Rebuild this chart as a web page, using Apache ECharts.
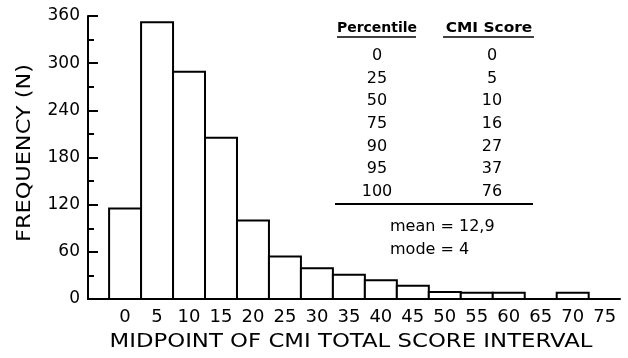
<!DOCTYPE html>
<html>
<head>
  <meta charset="utf-8">
  <title>CMI score histogram</title>
  <style>
    html, body { margin: 0; padding: 0; background: #fff; }
  </style>
</head>
<body>
  <div id="main" style="width: 628px;height:358px;"></div>
</body>
<script src="https://cdn.jsdelivr.net/npm/echarts@6/dist/echarts.min.js"></script>
<script>
  // interval midpoints and how many people fell in each
  let midpoints = [0, 5, 10, 15, 20, 25, 30, 35, 40, 45, 50, 55, 60, 65, 70, 75];
  let frequency = [115, 352, 289, 205, 100, 54, 39, 31, 24, 17, 9, 8, 8, 0, 8, 0];
  let yTicks = [0, 60, 120, 180, 240, 300, 360];

  // inset table
  let percentiles = [0, 25, 50, 75, 90, 95, 100];
  let cmiScores = [0, 5, 10, 16, 27, 37, 76];
  let mean = 12.9;
  let mode = 4;

  let font = 'DejaVu Sans';
  let binWidth = 5;

  let graphic = [];
  // axis titles (the original lettering is wider than DejaVu, so stretch a bit)
  graphic.push({ type: 'text', x: 351, y: 342, scaleX: 1.14, style: { text: 'MIDPOINT OF CMI TOTAL SCORE INTERVAL', font: '20px ' + font, fill: '#000', align: 'center', verticalAlign: 'middle' } });
  graphic.push({ type: 'text', x: 25, y: 153, rotation: Math.PI / 2, scaleX: 1.12, style: { text: 'FREQUENCY (N)', font: '20px ' + font, fill: '#000', align: 'center', verticalAlign: 'middle' } });

  let headY = 28, rowY0 = 56, rowStep = 22.6;
  graphic.push({ type: 'text', x: 377, y: headY, style: { text: 'Percentile', font: 'bold 14px ' + font, fill: '#000', align: 'center', verticalAlign: 'middle' } });
  graphic.push({ type: 'text', x: 489, y: headY, scaleX: 1.1, style: { text: 'CMI Score', font: 'bold 14px ' + font, fill: '#000', align: 'center', verticalAlign: 'middle' } });
  graphic.push({ type: 'line', shape: { x1: 337, y1: 37, x2: 416, y2: 37 }, style: { stroke: '#000', lineWidth: 1.5 } });
  graphic.push({ type: 'line', shape: { x1: 443, y1: 37, x2: 534, y2: 37 }, style: { stroke: '#000', lineWidth: 1.5 } });
  percentiles.forEach((p, i) => {
    graphic.push({ type: 'text', x: 377, y: rowY0 + i * rowStep, style: { text: String(p), font: '16px ' + font, fill: '#000', align: 'center', verticalAlign: 'middle' } });
    graphic.push({ type: 'text', x: 492, y: rowY0 + i * rowStep, style: { text: String(cmiScores[i]), font: '16px ' + font, fill: '#000', align: 'center', verticalAlign: 'middle' } });
  });
  graphic.push({ type: 'line', shape: { x1: 335, y1: 204, x2: 533, y2: 204 }, style: { stroke: '#000', lineWidth: 2 } });
  graphic.push({ type: 'text', x: 390, y: 227, style: { text: 'mean = ' + String(mean).replace('.', ','), font: '16px ' + font, fill: '#000', align: 'left', verticalAlign: 'middle' } });
  graphic.push({ type: 'text', x: 390, y: 250, style: { text: 'mode = ' + mode, font: '16px ' + font, fill: '#000', align: 'left', verticalAlign: 'middle' } });

  var myChart = echarts.init(document.getElementById('main'));

  option = {
    backgroundColor: '#fff',
    animation: false,
    grid: { left: 88, top: 16, width: 532, height: 283, containLabel: false },
    xAxis: {
      type: 'value',
      min: -5.8,
      max: 77.4,
      axisLine: { show: true, onZero: false, lineStyle: { color: '#000', width: 2 } },
      axisTick: { show: false },
      splitLine: { show: false },
      axisLabel: {
        customValues: midpoints,
        margin: 9,
        fontFamily: font,
        fontSize: 18,
        color: '#000'
      }
    },
    yAxis: {
      type: 'value',
      min: yTicks[0],
      max: yTicks[yTicks.length - 1],
      interval: yTicks[1] - yTicks[0],
      axisLine: { show: true, onZero: false, lineStyle: { color: '#000', width: 2 } },
      axisTick: { show: true, inside: true, length: 10, lineStyle: { color: '#000', width: 2 } },
      minorTick: { show: true, splitNumber: 2, length: 6, lineStyle: { color: '#000', width: 2 } },
      splitLine: { show: false },
      minorSplitLine: { show: false },
      axisLabel: { margin: 8, fontFamily: font, fontSize: 17, color: '#000' }
    },
    graphic: graphic,
    series: [{
      type: 'custom',
      data: midpoints.map((m, i) => [m, frequency[i]]),
      encode: { x: 0, y: 1 },
      renderItem: function (params, api) {
        let x = api.value(0), y = api.value(1);
        if (!y) return;
        let p0 = api.coord([x - binWidth / 2, 0]);
        let p1 = api.coord([x + binWidth / 2, y]);
        return {
          type: 'rect',
          shape: { x: p0[0], y: p1[1], width: p1[0] - p0[0], height: p0[1] - p1[1] },
          style: { fill: '#fff', stroke: '#000', lineWidth: 2 }
        };
      }
    }]
  };

  myChart.setOption(option);
</script>
</html>
